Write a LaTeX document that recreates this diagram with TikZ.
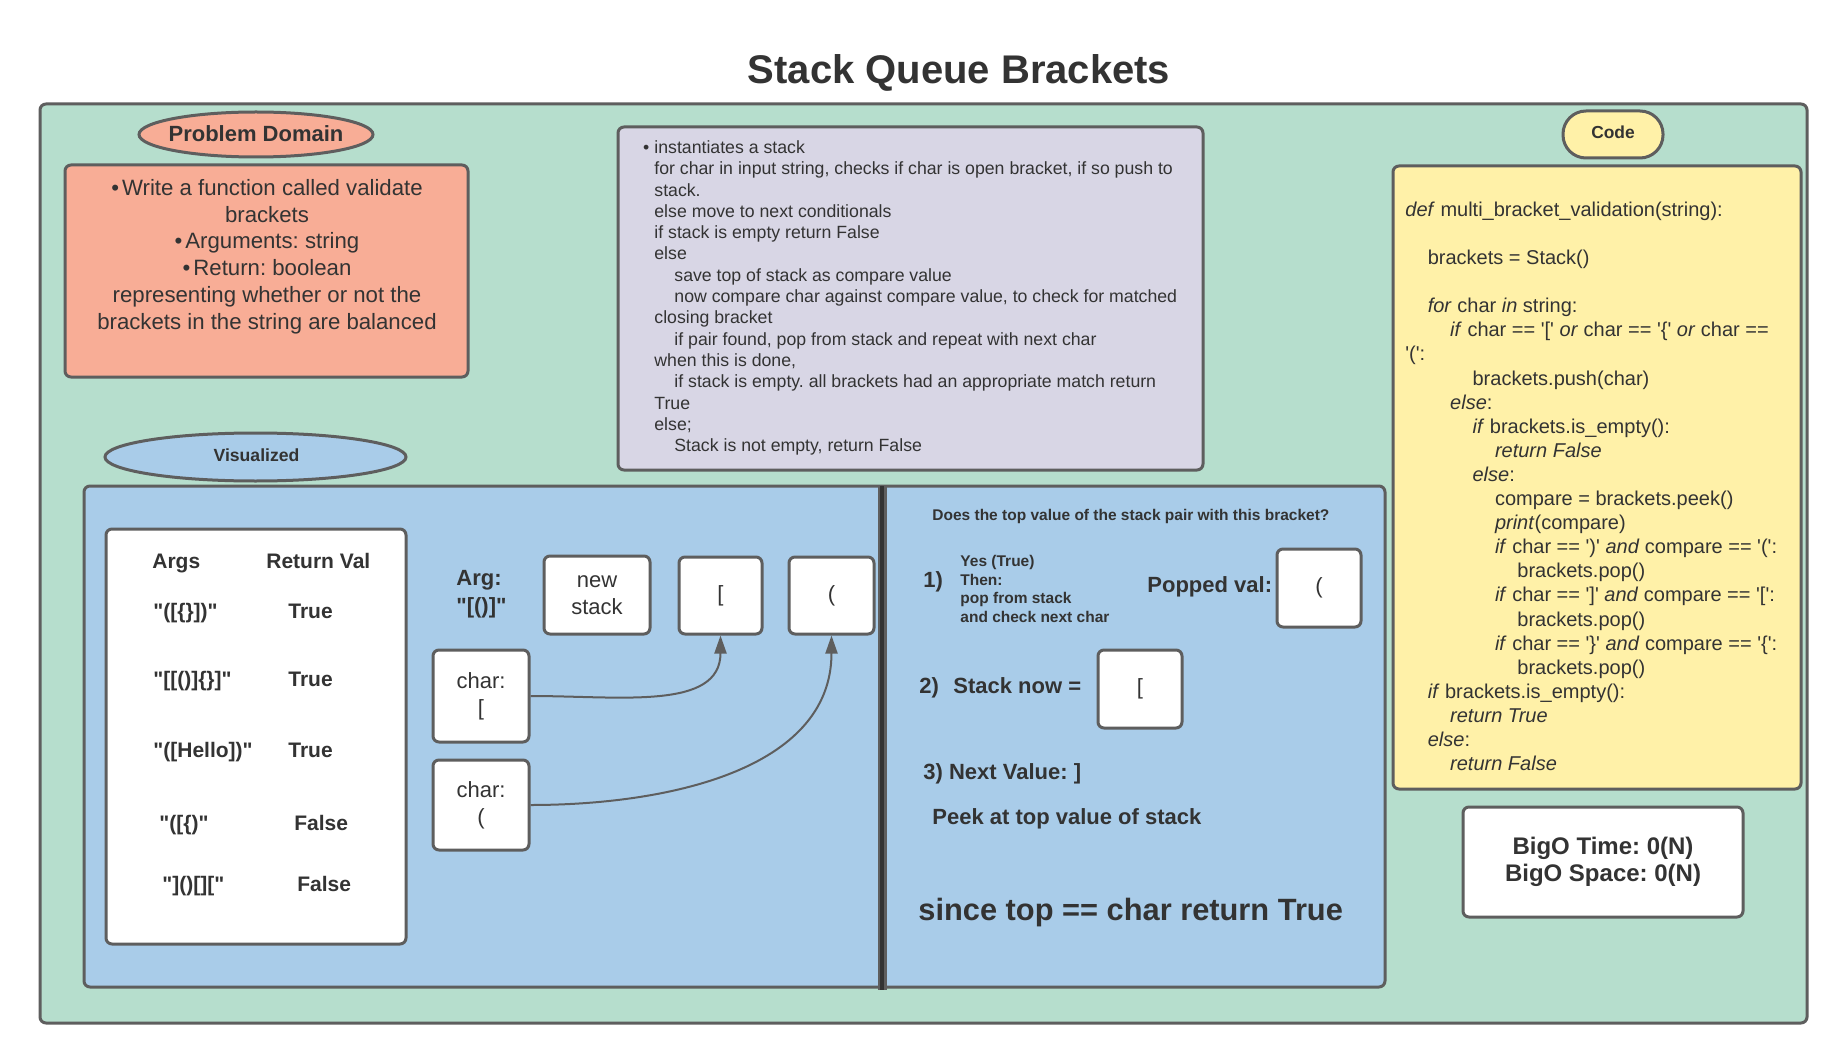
\documentclass[tikz,border=0pt]{standalone}
\usepackage{fontspec}
\setmainfont{Liberation Sans}[Ligatures=TeXOff]
\usetikzlibrary{arrows.meta}
\definecolor{mint}{RGB}{182,222,205}
\definecolor{salmon}{RGB}{248,173,150}
\definecolor{lilac}{RGB}{216,214,229}
\definecolor{butter}{RGB}{255,241,168}
\definecolor{sky}{RGB}{169,204,233}
\definecolor{edge}{RGB}{94,94,94}
\definecolor{ink}{RGB}{51,51,51}
\newcommand{\fs}[2]{\fontsize{#1}{#2}\selectfont}
\newcommand{\apos}{\textquotesingle}
\frenchspacing

\begin{document}
\begin{tikzpicture}[x=.5pt, y=-.5pt,
    panel/.style={draw=edge, line width=1.5pt, rounded corners=3pt},
    cell/.style={panel, fill=white, inner sep=0pt, align=center, text=ink, font=\fs{11}{13.5}},
    txt/.style={text=ink, inner sep=0pt},
    link/.style={draw=edge, line width=1pt, -{Triangle[length=9pt,width=6pt]}}]
    \fill[white] (0,0) rectangle (1847,1064);
    \useasboundingbox (0,0) rectangle (1847,1064);
    \node[txt, anchor=base, font=\bfseries\fs{20}{24}] (title) at (959,84) {Stack Queue Brackets};
    \draw[panel, fill=mint] (40,104) rectangle (1807,1023);

    \draw[panel, fill=salmon] (256,134.5) ellipse [x radius=117, y radius=22.5];
    \node[txt, anchor=base, font=\bfseries\fs{11}{13}] (pdlabel) at (256,141.5) {Problem Domain};
    \draw[panel, fill=salmon] (65,165) rectangle (468,377);
    \node[txt, anchor=north, align=center, font=\fs{11.1}{13.4}] (pdtext) at (267,176.2)
      {\strut\textbullet\hspace{1.5pt}Write a function called validate\\brackets\\\textbullet\hspace{1.5pt}Arguments: string\\
       \textbullet\hspace{1.5pt}Return: boolean\\representing whether or not the\\brackets in the string are balanced};

    \draw[panel, fill=lilac] (618,127) rectangle (1203,470);
    \node[txt, anchor=north west, align=left, font=\fs{8.85}{10.65}] (steps) at (654,138.1)
      {\strut\llap{\textbullet\hspace{2.5pt}}instantiates a stack\\
       for char in input string, checks if char is open bracket, if so push to\\
       stack.\\
       else move to next conditionals\\
       if stack is empty return False\\
       else\\
       \hspace*{10pt}save top of stack as compare value\\
       \hspace*{10pt}now compare char against compare value, to check for matched\\
       closing bracket\\
       \hspace*{10pt}if pair found, pop from stack and repeat with next char\\
       when this is done,\\
       \hspace*{10pt}if stack is empty. all brackets had an appropriate match return\\
       True\\
       else;\\
       \hspace*{10pt}Stack is not empty, return False};

    \draw[panel, fill=butter, rounded corners=11.5pt] (1563,111) rectangle (1663,158);
    \node[txt, anchor=base, font=\bfseries\fs{8.7}{10}] (codelabel) at (1613,139) {Code};
    \draw[panel, fill=butter] (1393,166) rectangle (1801,789);
    \node[txt, anchor=north west, align=left, font=\fs{10}{12.05}] (code) at (1405,199.1)
      {\strut\textit{def} multi\_bracket\_validation(string):\\
       \mbox{}\\
       \hspace*{11.2pt}brackets = Stack()\\
       \mbox{}\\
       \hspace*{11.2pt}\textit{for} char \textit{in} string:\\
       \hspace*{22.4pt}\textit{if} char == \apos[\apos{} \textit{or} char == \apos\{\apos{} \textit{or} char ==\\
       \apos(\apos:\\
       \hspace*{33.6pt}brackets.push(char)\\
       \hspace*{22.4pt}\textit{else}:\\
       \hspace*{33.6pt}\textit{if} brackets.is\_empty():\\
       \hspace*{44.8pt}\textit{return False}\\
       \hspace*{33.6pt}\textit{else}:\\
       \hspace*{44.8pt}compare = brackets.peek()\\
       \hspace*{44.8pt}\textit{print}(compare)\\
       \hspace*{44.8pt}\textit{if} char == \apos)\apos{} \textit{and} compare == \apos(\apos:\\
       \hspace*{56pt}brackets.pop()\\
       \hspace*{44.8pt}\textit{if} char == \apos]\apos{} \textit{and} compare == \apos[\apos:\\
       \hspace*{56pt}brackets.pop()\\
       \hspace*{44.8pt}\textit{if} char == \apos\}\apos{} \textit{and} compare == \apos\{\apos:\\
       \hspace*{56pt}brackets.pop()\\
       \hspace*{11.2pt}\textit{if} brackets.is\_empty():\\
       \hspace*{22.4pt}\textit{return True}\\
       \hspace*{11.2pt}\textit{else}:\\
       \hspace*{22.4pt}\textit{return False}};
    \node[cell, minimum width=140pt, minimum height=55pt, font=\bfseries\fs{12}{13.5}] (bigo) at (1603,862)
      {BigO Time: 0(N)\\BigO Space: 0(N)};

    \draw[panel, fill=sky] (255.5,457) ellipse [x radius=150.5, y radius=24];
    \node[txt, anchor=base, font=\bfseries\fs{8.8}{10}] (vislabel) at (256.5,461) {Visualized};
    \draw[panel, fill=sky] (84,486) rectangle (1385,987);
    \draw[edge, line width=4.5pt] (882.5,486) -- (882.5,990);
    \draw[ink, line width=2pt] (882,486) -- (882,990);

    \draw[panel, fill=white] (106,529) rectangle (406,944);
    \node[txt, anchor=base west, font=\bfseries\fs{10.5}{12}] (argshead) at (152,568.5) {Args};
    \node[txt, anchor=base west, font=\bfseries\fs{10.5}{12}] (rethead) at (266,568.5) {Return Val};
    \foreach \n/\b/\ax/\a/\rx/\r in {1/618.5/153/{"([\{\}])"}/288/True,2/686.5/153/{"[[()]\{\}]"}/288/True,
        3/757.5/153/{"([Hello])"}/288/True,4/830/159/{"([\{)"}/294/False,5/891.5/162/{"]()[]["}/297/False}{
      \node[txt, anchor=base west, font=\bfseries\fs{10.5}{12}] (arg\n) at (\ax,\b) {\a};
      \node[txt, anchor=base west, font=\bfseries\fs{10.5}{12}] (ret\n) at (\rx,\b) {\r};
    }

    \node[txt, anchor=north west, align=left, font=\bfseries\fs{11}{14}] (arg) at (456,565.9) {\strut Arg:\\"[()]"};
    \node[cell, minimum width=53pt, minimum height=39pt] (newstack) at (597,595) {new\\stack};
    \node[cell, minimum width=41.5pt, minimum height=38.5pt] (pushA) at (720.5,595.5) {[};
    \node[cell, minimum width=42.5pt, minimum height=38.5pt] (pushB) at (831.5,595.5) {(};
    \node[cell, minimum width=48pt, minimum height=46pt] (charA) at (481,696) {char:\\{[}};
    \node[cell, minimum width=48pt, minimum height=45pt] (charB) at (481,805) {char:\\(};
    \draw[link] (charA.east) .. controls +(90,0) and +(0,75) .. (pushA.south);
    \draw[link] (charB.east) .. controls +(135,0) and +(0,135) .. (pushB.south);

    \node[txt, anchor=base west, font=\bfseries\fs{7.75}{9}] (question) at (932,520.5) {Does the top value of the stack pair with this bracket?};
    \node[txt, anchor=base west, font=\bfseries\fs{11}{13}] (stepone) at (923,587) {1)};
    \node[txt, anchor=north west, align=left, font=\bfseries\fs{7.75}{9.35}] (yes) at (960,553)
      {\strut Yes (True)\\Then:\\pop from stack\\and check next char};
    \node[txt, anchor=base west, font=\bfseries\fs{11}{13}] (poplabel) at (1147,592) {Popped val:};
    \node[cell, minimum width=42pt, minimum height=39pt] (popped) at (1319,588) {(};
    \node[txt, anchor=base west, font=\bfseries\fs{11}{13}] (steptwo) at (919,693) {2)\hspace{7.2pt}Stack now =};
    \node[cell, minimum width=42pt, minimum height=39pt] (stacknow) at (1140,689) {[};
    \node[txt, anchor=base west, font=\bfseries\fs{11}{13}] (stepthree) at (923,779) {3) Next Value: ]};
    \node[txt, anchor=base west, font=\bfseries\fs{11}{13}] (peek) at (932,824) {Peek at top value of stack};
    \node[txt, anchor=base west, font=\bfseries\fs{15.4}{18}] (result) at (918,920) {since top == char return True};
  \end{tikzpicture}
\end{document}
